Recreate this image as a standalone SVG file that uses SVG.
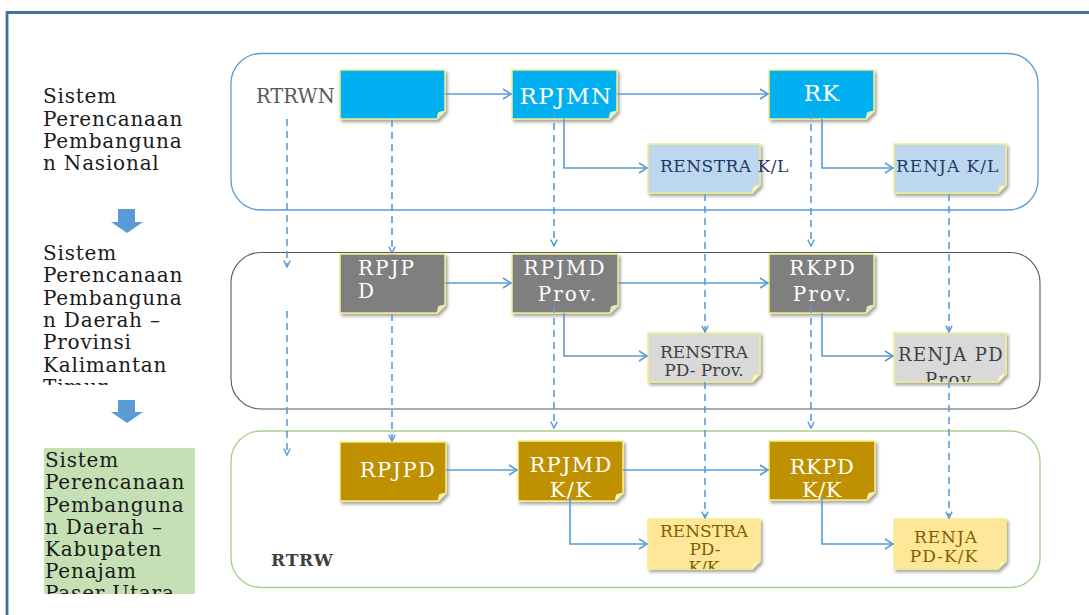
<svg xmlns="http://www.w3.org/2000/svg" width="1089" height="615" viewBox="0 0 1089 615">
<style>
.lbl{font-family:"DejaVu Serif","Liberation Serif",serif;font-size:20px;letter-spacing:0.8px;fill:#1a1a1a}
.t{font-family:"DejaVu Serif","Liberation Serif",serif}
.bx{stroke:#f2ee8c;stroke-width:1.5}
.fold{stroke:#f2ee8c;stroke-width:1}
.con{fill:none;stroke:#5b9bd5;stroke-width:1.6}
.dash{fill:none;stroke:#5b9bd5;stroke-width:1.6;stroke-dasharray:7 5}
.wt{fill:#ffffff}
</style>
<defs>
<marker id="ah" viewBox="0 0 10 12" refX="9" refY="6" markerWidth="10" markerHeight="12" markerUnits="userSpaceOnUse" orient="auto">
<path d="M1,1 L9,6 L1,11" fill="none" stroke="#5b9bd5" stroke-width="1.6" stroke-dasharray="none"/>
</marker>
<marker id="ahs" viewBox="0 0 10 10" refX="9" refY="5" markerWidth="8" markerHeight="8" markerUnits="userSpaceOnUse" orient="auto">
<path d="M1,1 L9,5 L1,9" fill="none" stroke="#5b9bd5" stroke-width="1.8" stroke-dasharray="none"/>
</marker>
<filter id="sh" x="-10%" y="-10%" width="130%" height="140%">
<feDropShadow dx="2" dy="2.5" stdDeviation="1.5" flood-color="#000" flood-opacity="0.35"/>
</filter>
<clipPath id="c2"><rect x="30" y="230" width="180" height="155"/></clipPath>
<clipPath id="c3"><rect x="44" y="448" width="151" height="146"/></clipPath>
<clipPath id="cRenjaP"><rect x="894" y="333" width="112" height="49"/></clipPath>
<clipPath id="cRenstraK"><rect x="648" y="519" width="112" height="50"/></clipPath>
</defs>

<rect width="1089" height="615" fill="#ffffff"/>
<!-- outer frame -->
<g id="frame">
<path d="M7,615 V12.5 H1089" fill="none" stroke="#41719c" stroke-width="2.8"/>
</g>

<!-- bands -->
<g id="band-nasional"><rect x="231" y="53.5" width="807" height="156.5" rx="30" fill="none" stroke="#5b9bd5" stroke-width="1.3"/></g>
<g id="band-provinsi"><rect x="231" y="252.5" width="809" height="156.5" rx="30" fill="none" stroke="#595959" stroke-width="1.1"/></g>
<g id="band-kabupaten"><rect x="231" y="431" width="809" height="156.5" rx="30" fill="none" stroke="#a9d18e" stroke-width="1.4"/></g>

<!-- left labels -->
<g id="label-nasional">
<text class="lbl" x="43"><tspan x="43" y="103">Sistem</tspan><tspan x="43" y="125.5">Perencanaan</tspan><tspan x="43" y="148">Pembanguna</tspan><tspan x="43" y="170">n Nasional</tspan></text>
</g>
<g id="arrow-1"><path d="M118,209 H135 V222 H143 L127,233 L111,222 H118 Z" fill="#5b9bd5"/></g>
<g id="label-provinsi" clip-path="url(#c2)">
<text class="lbl" x="43"><tspan x="43" y="260">Sistem</tspan><tspan x="43" y="282">Perencanaan</tspan><tspan x="43" y="305">Pembanguna</tspan><tspan x="43" y="327">n Daerah –</tspan><tspan x="43" y="349">Provinsi</tspan><tspan x="43" y="371.5">Kalimantan</tspan><tspan x="43" y="394">Timur</tspan></text>
</g>
<g id="arrow-2"><path d="M118,400 H135 V412 H143 L127,423 L111,412 H118 Z" fill="#5b9bd5"/></g>
<g id="label-kabupaten">
<rect x="44" y="448" width="151" height="146" fill="#c5e0b4"/>
<text class="lbl" x="45" clip-path="url(#c3)"><tspan x="45" y="467">Sistem</tspan><tspan x="45" y="489">Perencanaan</tspan><tspan x="45" y="511.5">Pembanguna</tspan><tspan x="45" y="533.5">n Daerah –</tspan><tspan x="45" y="556">Kabupaten</tspan><tspan x="45" y="578">Penajam</tspan><tspan x="45" y="600">Paser Utara</tspan></text>
</g>

<!-- band 1 nodes -->
<g id="rtrwn-label"><text class="t" x="256" y="103" font-size="19.5" fill="#595959">RTRWN</text></g>
<g id="node-rpjpn" filter="url(#sh)">
<path class="bx" d="M340,70 H445 V111 L437,119 H340 Z" fill="#00b0f0"/>
<path class="fold" d="M445,111 L437,119 L438.5,112.5 Z" fill="#d8f0fb"/>
</g>
<g id="node-rpjmn">
<g filter="url(#sh)"><path class="bx" d="M512,70 H617 V111 L609,119 H512 Z" fill="#00b0f0"/>
<path class="fold" d="M617,111 L609,119 L610.5,112.5 Z" fill="#d8f0fb"/></g>
<text class="t wt" x="566" y="104" font-size="23" letter-spacing="1.5" text-anchor="middle">RPJMN</text>
</g>
<g id="node-rk">
<g filter="url(#sh)"><path class="bx" d="M769,70 H874 V111 L866,119 H769 Z" fill="#00b0f0"/>
<path class="fold" d="M874,111 L866,119 L867.5,112.5 Z" fill="#d8f0fb"/></g>
<text class="t wt" x="822" y="101" font-size="23" letter-spacing="1" text-anchor="middle">RK</text>
</g>
<g id="node-renstra-kl">
<g filter="url(#sh)"><path class="bx" d="M648,144 H760 V185 L752,193 H648 Z" fill="#bdd7ee"/>
<path class="fold" d="M760,185 L752,193 L753.5,186.5 Z" fill="#eef5fb"/></g>
<text class="t" x="660" y="172" font-size="17" letter-spacing="0.5" fill="#1f3864">RENSTRA K/L</text>
</g>
<g id="node-renja-kl">
<g filter="url(#sh)"><path class="bx" d="M894,144 H1006 V185 L998,193 H894 Z" fill="#bdd7ee"/>
<path class="fold" d="M1006,185 L998,193 L999.5,186.5 Z" fill="#eef5fb"/></g>
<text class="t" x="896" y="172" font-size="17" letter-spacing="1" fill="#1f3864">RENJA K/L</text>
</g>

<!-- band 2 nodes -->
<g id="node-rpjpd-prov">
<g filter="url(#sh)"><path class="bx" d="M340,254 H445 V305 L437,313 H340 Z" fill="#7f7f7f"/>
<path class="fold" d="M445,305 L437,313 L438.5,306.5 Z" fill="#e5e5e5"/></g>
<text class="t wt" font-size="20" letter-spacing="2"><tspan x="358" y="275">RPJP</tspan><tspan x="358" y="298">D</tspan></text>
</g>
<g id="node-rpjmd-prov">
<g filter="url(#sh)"><path class="bx" d="M512,254 H618 V305 L610,313 H512 Z" fill="#7f7f7f"/>
<path class="fold" d="M618,305 L610,313 L611.5,306.5 Z" fill="#e5e5e5"/></g>
<text class="t wt" font-size="20" letter-spacing="2" text-anchor="middle"><tspan x="565" y="275">RPJMD</tspan><tspan x="568" y="301">Prov.</tspan></text>
</g>
<g id="node-rkpd-prov">
<g filter="url(#sh)"><path class="bx" d="M769,254 H874 V305 L866,313 H769 Z" fill="#7f7f7f"/>
<path class="fold" d="M874,305 L866,313 L867.5,306.5 Z" fill="#e5e5e5"/></g>
<text class="t wt" font-size="20" letter-spacing="2" text-anchor="middle"><tspan x="823" y="275">RKPD</tspan><tspan x="823" y="301">Prov.</tspan></text>
</g>
<g id="node-renstra-pd-prov">
<g filter="url(#sh)"><path class="bx" d="M648,333 H760 V374 L752,382 H648 Z" fill="#d9d9d9"/>
<path class="fold" d="M760,374 L752,382 L753.5,375.5 Z" fill="#f5f5f5"/></g>
<text class="t" font-size="17" fill="#404040" text-anchor="middle"><tspan x="704" y="358">RENSTRA</tspan><tspan x="704" y="376">PD- Prov.</tspan></text>
</g>
<g id="node-renja-pd-prov">
<g filter="url(#sh)"><path class="bx" d="M894,333 H1006 V374 L998,382 H894 Z" fill="#d9d9d9"/>
<path class="fold" d="M1006,374 L998,382 L999.5,375.5 Z" fill="#f5f5f5"/></g>
<text class="t" font-size="18" letter-spacing="1.4" fill="#404040" clip-path="url(#cRenjaP)"><tspan x="898" y="361">RENJA PD</tspan><tspan x="925" y="386">Prov.</tspan></text>
</g>

<!-- band 3 nodes -->
<g id="node-rpjpd-kk">
<g filter="url(#sh)"><path class="bx" d="M340,442 H446 V493 L438,501 H340 Z" fill="#bf9000"/>
<path class="fold" d="M446,493 L438,501 L439.5,494.5 Z" fill="#fff2cc"/></g>
<text class="t wt" x="398" y="477" font-size="21" letter-spacing="1.4" text-anchor="middle">RPJPD</text>
</g>
<g id="node-rpjmd-kk">
<g filter="url(#sh)"><path class="bx" d="M518,441 H623 V493 L615,501 H518 Z" fill="#bf9000"/>
<path class="fold" d="M623,493 L615,501 L616.5,494.5 Z" fill="#fff2cc"/></g>
<text class="t wt" font-size="21" letter-spacing="1.3" text-anchor="middle"><tspan x="571" y="472">RPJMD</tspan><tspan x="571" y="497">K/K</tspan></text>
</g>
<g id="node-rkpd-kk">
<g filter="url(#sh)"><path class="bx" d="M769,441 H875 V492 L867,500 H769 Z" fill="#bf9000"/>
<path class="fold" d="M875,492 L867,500 L868.5,493.5 Z" fill="#fff2cc"/></g>
<text class="t wt" font-size="21" letter-spacing="0.5" text-anchor="middle"><tspan x="822" y="474">RKPD</tspan><tspan x="822" y="497">K/K</tspan></text>
</g>
<g id="node-renstra-pd-kk">
<g filter="url(#sh)"><path class="bx" d="M648,519 H760 V561 L752,569 H648 Z" fill="#ffe699"/>
<path class="fold" d="M760,561 L752,569 L753.5,562.5 Z" fill="#fff8e0"/></g>
<text class="t" font-size="17" fill="#7f6000" text-anchor="middle" clip-path="url(#cRenstraK)"><tspan x="704" y="537">RENSTRA</tspan><tspan x="705" y="555">PD-</tspan><tspan x="704" y="573">K/K</tspan></text>
</g>
<g id="node-renja-pd-kk">
<g filter="url(#sh)"><path class="bx" d="M894,519 H1006 V561 L998,569 H894 Z" fill="#ffe699"/>
<path class="fold" d="M1006,561 L998,569 L999.5,562.5 Z" fill="#fff8e0"/></g>
<text class="t" font-size="17" letter-spacing="1" fill="#7f6000" text-anchor="middle"><tspan x="946" y="543">RENJA</tspan><tspan x="944" y="562">PD-K/K</tspan></text>
</g>
<g id="rtrw-label"><text class="t" x="271" y="566" font-size="17" font-weight="bold" letter-spacing="0.8" fill="#404040">RTRW</text></g>

<!-- connectors -->
<g id="connectors">
<path class="con" d="M445,94 H511" marker-end="url(#ah)"/>
<path class="con" d="M617,94 H768" marker-end="url(#ah)"/>
<path class="con" d="M564,119 V168 H647" marker-end="url(#ah)"/>
<path class="con" d="M822,119 V168 H893" marker-end="url(#ah)"/>
<path class="con" d="M445,283 H511" marker-end="url(#ah)"/>
<path class="con" d="M618,283 H768" marker-end="url(#ah)"/>
<path class="con" d="M564,313 V356 H647" marker-end="url(#ah)"/>
<path class="con" d="M822,313 V356 H893" marker-end="url(#ah)"/>
<path class="con" d="M446,470 H517" marker-end="url(#ah)"/>
<path class="con" d="M623,470 H768" marker-end="url(#ah)"/>
<path class="con" d="M570,497 V544 H647" marker-end="url(#ah)"/>
<path class="con" d="M822,497 V544 H893" marker-end="url(#ah)"/>

<path class="dash" d="M287,119 V267" marker-end="url(#ahs)"/>
<path class="dash" d="M287,311 V455" marker-end="url(#ahs)"/>
<path class="dash" d="M392,120 V253" marker-end="url(#ahs)"/>
<path class="dash" d="M392,314 V441" marker-end="url(#ahs)"/>
<path class="dash" d="M554,111 V246" marker-end="url(#ahs)"/>
<path class="dash" d="M554,306 V428" marker-end="url(#ahs)"/>
<path class="dash" d="M705,194 V332" marker-end="url(#ahs)"/>
<path class="dash" d="M705,382 V518" marker-end="url(#ahs)"/>
<path class="dash" d="M811,112 V246" marker-end="url(#ahs)"/>
<path class="dash" d="M811,306 V428" marker-end="url(#ahs)"/>
<path class="dash" d="M949,194 V332" marker-end="url(#ahs)"/>
<path class="dash" d="M949,381 V518" marker-end="url(#ahs)"/>
</g>
</svg>
